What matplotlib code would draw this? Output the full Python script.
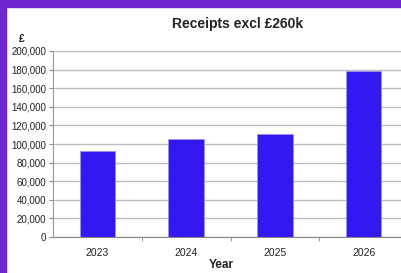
import matplotlib
matplotlib.use("Agg")
import matplotlib.pyplot as plt
from matplotlib.patches import Rectangle

plt.rcParams["font.family"] = ["Liberation Sans", "DejaVu Sans"]

years = ["2023", "2024", "2025", "2026"]
receipts = [92000, 105000, 111000, 179000]
yticks = list(range(0, 200001, 20000))

PURPLE = "#6E26CF"
BLUE = "#3318F0"
GRID = "#BDBDBD"

fig = plt.figure(figsize=(4.01, 2.73), dpi=100)
fig.patch.set_facecolor("white")

# purple frame on top and left
fig.patches.append(Rectangle((0, 1 - 7 / 273), 1, 7 / 273, transform=fig.transFigure,
                             color=PURPLE, zorder=0))
fig.patches.append(Rectangle((0, 0), 6 / 401, 1, transform=fig.transFigure,
                             color=PURPLE, zorder=0))

ax = fig.add_axes([53 / 401, 36 / 273, 355 / 401, 186 / 273])
ax.set_facecolor("white")
ax.bar(range(len(years)), receipts, width=0.4, color=BLUE,
       edgecolor="#9C90F5", linewidth=0.6, zorder=3)

ax.set_xlim(-0.5, 3.5)
ax.set_ylim(0, 200000)
ax.set_yticks(yticks)
ax.set_yticklabels([f"{v:,}" for v in yticks])
ax.grid(axis="y", color=GRID, linewidth=1.0, zorder=0)

ax.set_xticks(range(len(years)))
ax.set_xticklabels(years)
ax.set_xticks([0.5, 1.5, 2.5], minor=True)
ax.tick_params(axis="x", which="major", length=0, labelsize=7.5, pad=8, colors="#222222")
ax.tick_params(axis="x", which="minor", length=3, color="#888888")
ax.tick_params(axis="y", length=3, labelsize=7, color="#888888", labelcolor="#222222", pad=2)

for side in ["top", "right"]:
    ax.spines[side].set_visible(False)
ax.spines["left"].set_color("#999999")
ax.spines["bottom"].set_color("#888888")

fig.text(221 / 401, 1 - 265 / 273, "Year", ha="center", va="center",
         fontsize=8.5, fontweight="bold", color="#222222")
fig.text(238 / 401, 1 - 24 / 273, "Receipts excl £260k", ha="center", va="center",
         fontsize=10, fontweight="bold", color="#222222")
fig.text(22 / 401, 1 - 39 / 273, "£", ha="center", va="center",
         fontsize=7.5, fontweight="bold", color="#222222")

fig.savefig("out.png", dpi=100, facecolor=fig.get_facecolor())
